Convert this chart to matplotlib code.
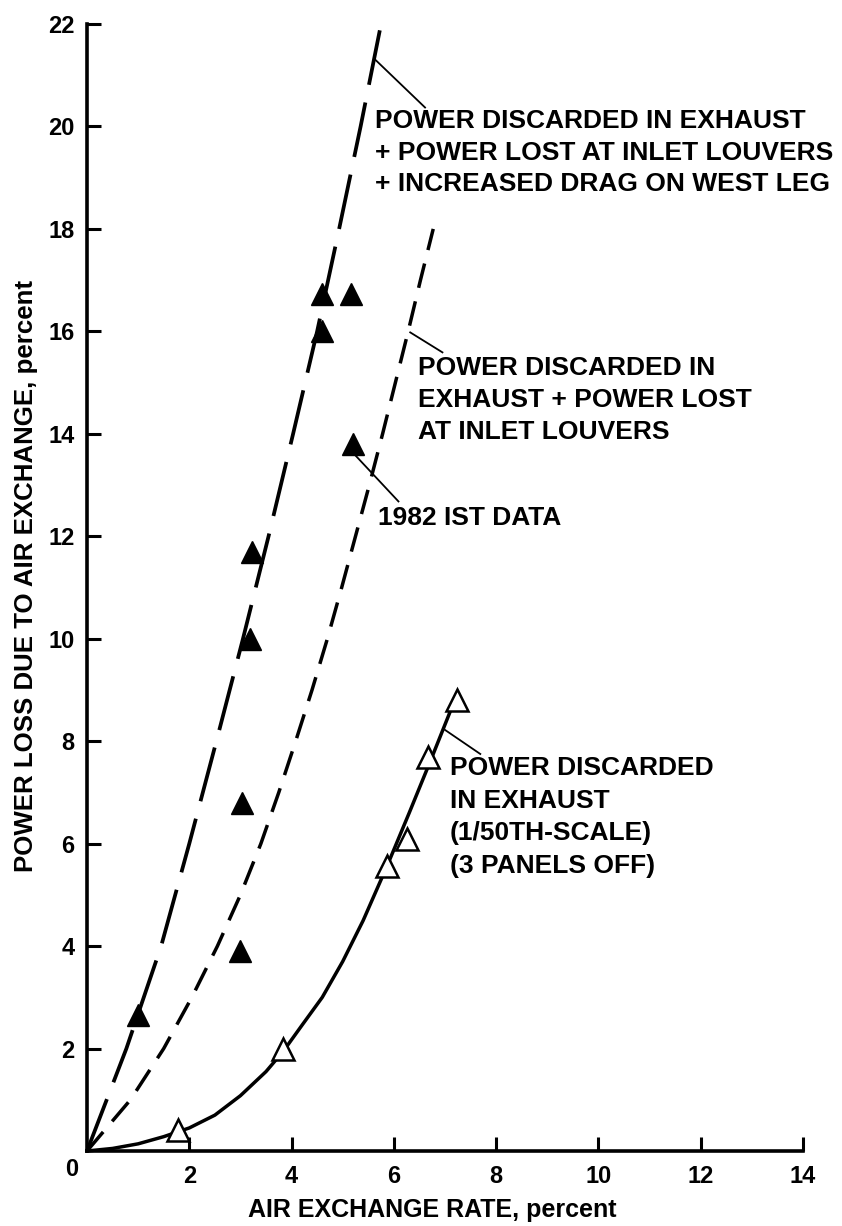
import matplotlib
matplotlib.use('Agg')
import matplotlib.pyplot as plt

plt.rcParams['font.family'] = ['Liberation Sans', 'DejaVu Sans']
plt.rcParams['font.weight'] = 'bold'
plt.rcParams['lines.scale_dashes'] = False

# ---- data ----
# Curve: power discarded in exhaust + louvers + increased drag on west leg (long dash)
long_x = [0.0, 0.77, 1.45, 2.0, 2.53, 3.05, 3.55, 4.03, 4.5, 4.93, 5.35, 5.75]
long_y = [0.0, 2.0, 4.0, 6.0, 8.0, 10.0, 12.0, 14.0, 16.0, 18.0, 20.0, 22.0]

# Curve: power discarded in exhaust + power lost at inlet louvers (short dash)
short_x = [0.0, 0.85, 1.5, 2.05, 2.55, 3.0, 3.4, 3.75, 4.08, 4.4, 4.7, 4.98, 5.25,
           5.52, 5.78, 6.03, 6.28, 6.52, 6.77]
short_y = [0.0, 1.0, 2.0, 3.0, 4.0, 5.0, 6.0, 7.0, 8.0, 9.0, 10.0, 11.0, 12.0,
           13.0, 14.0, 15.0, 16.0, 17.0, 18.0]

# Curve: power discarded in exhaust (1/50th-scale, solid)
solid_x = [0.0, 0.5, 1.0, 1.5, 2.0, 2.5, 3.0, 3.5, 3.84, 4.2, 4.6, 5.0, 5.4, 5.87,
           6.3, 6.75, 7.15]
solid_y = [0.0, 0.05, 0.14, 0.28, 0.45, 0.7, 1.08, 1.55, 1.95, 2.45, 3.0, 3.7, 4.5,
           5.57, 6.6, 7.7, 8.7]

# 1982 IST data (filled triangles)
ist_x = [1.0, 3.0, 3.03, 3.19, 3.23, 5.2, 4.6, 4.6, 5.17]
ist_y = [2.66, 3.9, 6.8, 10.0, 11.7, 13.8, 16.0, 16.72, 16.72]

# 1/50th-scale data (open triangles)
scale_x = [1.78, 3.84, 5.87, 6.26, 6.67, 7.24]
scale_y = [0.41, 2.0, 5.57, 6.1, 7.7, 8.8]

x_ticks = [2, 4, 6, 8, 10, 12, 14]
y_ticks = [2, 4, 6, 8, 10, 12, 14, 16, 18, 20, 22]

label1 = ["POWER DISCARDED IN EXHAUST", "+ POWER LOST AT INLET LOUVERS", "+ INCREASED DRAG ON WEST LEG"]
label2 = ["POWER DISCARDED IN", "EXHAUST + POWER LOST", "AT INLET LOUVERS"]
label3 = "1982 IST DATA"
label4 = ["POWER DISCARDED", "IN EXHAUST", "(1/50TH-SCALE)", "(3 PANELS OFF)"]

# ---- figure ----
fig = plt.figure(figsize=(8.42, 12.26), dpi=100)
ax = fig.add_axes([87 / 842, 75 / 1226, 716 / 842, 1127 / 1226])

ax.plot(long_x, long_y, color='black', lw=2.7, dashes=(40, 13), clip_on=False)
ax.plot(short_x, short_y, color='black', lw=2.5, dashes=(18, 10), clip_on=False)
ax.plot(solid_x, solid_y, color='black', lw=2.5, clip_on=False,
        solid_joinstyle='round')

ax.plot(ist_x, ist_y, linestyle='none', marker='^', ms=15.5, color='black',
        clip_on=False, zorder=5)
ax.plot(scale_x, scale_y, linestyle='none', marker='^', ms=15.5, mfc='white',
        mec='black', mew=1.8, clip_on=False, zorder=5)

ax.set_xlim(0, 14)
ax.set_ylim(0, 22)
ax.set_xticks(x_ticks)
ax.set_yticks(y_ticks)
ax.set_xticklabels([str(v) for v in x_ticks])
ax.set_yticklabels([str(v) for v in y_ticks])
ax.tick_params(direction='in', length=10, width=2.2, labelsize=17)
ax.tick_params(axis='x', pad=10)
ax.tick_params(axis='y', pad=9)
for lab in ax.get_xticklabels() + ax.get_yticklabels():
    lab.set_fontweight('bold')
ax.text(-0.30, -0.37, "0", ha='center', va='center', fontsize=17,
        fontweight='bold', clip_on=False)

for s in ['top', 'right']:
    ax.spines[s].set_visible(False)
for s in ['left', 'bottom']:
    ax.spines[s].set_linewidth(2.6)

ax.set_xlabel("AIR EXCHANGE RATE, percent", fontsize=18, fontweight='bold')
ax.set_ylabel("POWER LOSS DUE TO AIR EXCHANGE, percent", fontsize=18.6, fontweight='bold')
ax.xaxis.set_label_coords(0.482, -0.0415)
ax.yaxis.set_label_coords(-0.068, 0.51)

# ---- annotations ----
fs = 19
for i, t in enumerate(label1):
    ax.text(5.64, 20.1 - 0.615 * i, t, ha='left', va='center', fontsize=fs, fontweight='bold')
for i, t in enumerate(label2):
    ax.text(6.48, 15.29 - 0.625 * i, t, ha='left', va='center', fontsize=fs, fontweight='bold')
ax.text(5.69, 12.36, label3, ha='left', va='center', fontsize=fs, fontweight='bold')
for i, t in enumerate(label4):
    ax.text(7.1, 7.48 - 0.64 * i, t, ha='left', va='center', fontsize=fs, fontweight='bold')

leader_kw = dict(color='black', lw=1.3, clip_on=False)
ax.plot([5.64, 6.61], [21.3, 20.37], **leader_kw)
ax.plot([6.32, 6.95], [15.98, 15.59], **leader_kw)
ax.plot([5.2, 6.09], [13.63, 12.68], **leader_kw)
ax.plot([7.0, 7.69], [8.22, 7.75], **leader_kw)

fig.savefig('out.png', dpi=100, facecolor='white')
